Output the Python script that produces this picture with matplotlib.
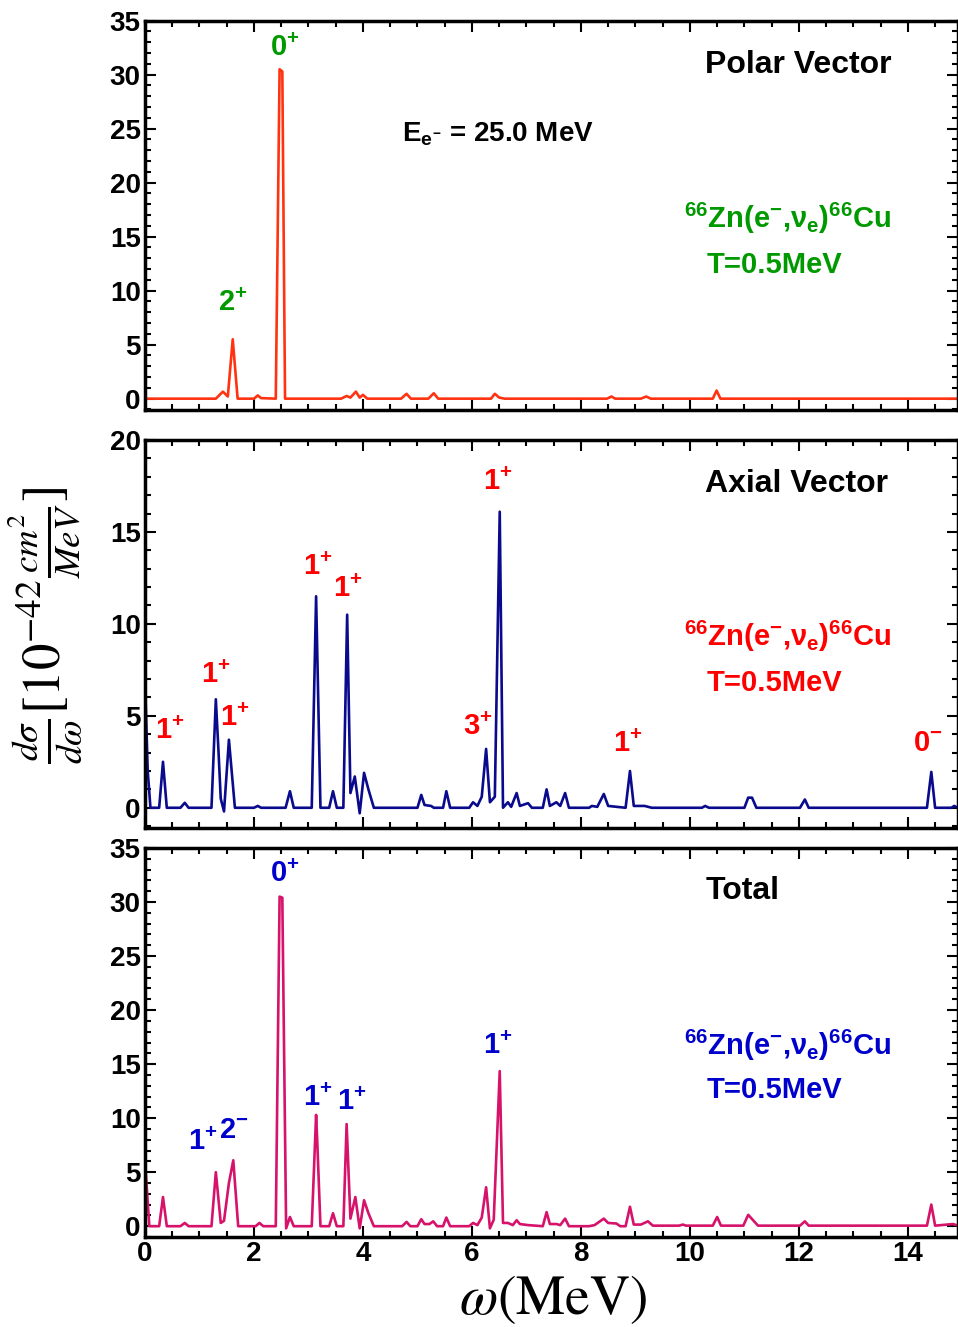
import numpy as np
import matplotlib.pyplot as plt
from matplotlib.ticker import MultipleLocator

plt.rcParams['font.family'] = ['Liberation Sans', 'DejaVu Sans']
plt.rcParams['font.weight'] = 'normal'
plt.rcParams['mathtext.fontset'] = 'custom'
plt.rcParams['mathtext.rm'] = 'Liberation Sans:bold'
plt.rcParams['mathtext.it'] = 'Liberation Sans:bold'
plt.rcParams['mathtext.bf'] = 'Liberation Sans:bold'
plt.rcParams['mathtext.sf'] = 'Liberation Sans:bold'

# Polar vector (knots)
polar_x = [0.0, 1.30, 1.43, 1.52, 1.61, 1.70, 2.00, 2.07, 2.13, 2.40, 2.47, 2.52, 2.57,
           3.60, 3.70, 3.77, 3.87, 3.94, 4.00, 4.08, 4.70, 4.80, 4.88, 5.20, 5.30, 5.38,
           6.35, 6.42, 6.50, 6.60, 8.48, 8.56, 8.63, 9.10, 9.20, 9.28, 10.42, 10.49, 10.56,
           14.92]
polar_y = [0.0, 0.0, 0.65, 0.2, 5.5, 0.0, 0.0, 0.3, 0.05, 0.0, 30.5, 30.3, 0.0,
           0.0, 0.25, 0.1, 0.65, 0.1, 0.35, 0.0, 0.0, 0.45, 0.0, 0.0, 0.5, 0.0,
           0.0, 0.45, 0.1, 0.0, 0.0, 0.2, 0.0, 0.0, 0.2, 0.0, 0.0, 0.75, 0.0,
           0.0]

# Axial vector
axial_x = [0.00, 0.05, 0.10, 0.26, 0.33, 0.40, 0.65, 0.73, 0.80, 1.22, 1.30, 1.35, 1.39, 1.45,
           1.54, 1.65, 2.00, 2.07, 2.13, 2.58, 2.66, 2.73, 3.06, 3.14, 3.22, 3.38, 3.45, 3.52,
           3.64, 3.71, 3.77, 3.85, 3.94, 4.02, 4.10, 4.20, 5.00, 5.07, 5.13, 5.25, 5.30, 5.47,
           5.53, 5.60, 5.95, 6.02, 6.10, 6.18, 6.26, 6.33, 6.42, 6.51, 6.57, 6.66, 6.72, 6.82,
           6.88, 7.03, 7.10, 7.30, 7.37, 7.43, 7.55, 7.62, 7.71, 7.78, 8.15, 8.20, 8.30, 8.42,
           8.50, 8.82, 8.90, 8.97, 9.17, 9.30, 10.22, 10.28, 10.35, 11.00, 11.07, 11.14, 11.22,
           12.02, 12.11, 12.18, 14.35, 14.43, 14.50, 14.80, 14.85, 14.92]
axial_y = [7.0, 2.0, 0.0, 0.0, 2.5, 0.0, 0.0, 0.27, 0.0, 0.0, 5.9, 3.0, 0.5, -0.2,
           3.7, 0.0, 0.0, 0.1, 0.0, 0.0, 0.9, 0.0, 0.0, 11.5, 0.0, 0.0, 0.9, 0.0,
           0.0, 10.5, 0.8, 1.7, -0.3, 1.9, 1.0, 0.0, 0.0, 0.7, 0.15, 0.1, 0.0, 0.0,
           0.9, 0.0, 0.0, 0.3, 0.1, 0.6, 3.2, 0.3, 0.6, 16.1, 0.0, 0.3, 0.05, 0.8,
           0.1, 0.25, 0.0, 0.0, 1.0, 0.1, 0.3, 0.1, 0.8, 0.0, 0.0, 0.1, 0.05, 0.75,
           0.1, 0.0, 2.0, 0.1, 0.1, 0.0, 0.0, 0.1, 0.0, 0.0, 0.55, 0.55, 0.0,
           0.0, 0.45, 0.0, 0.0, 1.95, 0.0, 0.0, 0.1, 0.0]

# Total
total_x = [0.00, 0.04, 0.08, 0.26, 0.33, 0.40, 0.65, 0.73, 0.80, 1.22, 1.30, 1.39, 1.45, 1.54,
           1.62, 1.71, 2.03, 2.10, 2.17, 2.40, 2.47, 2.52, 2.59, 2.66, 2.73, 3.06, 3.14, 3.16,
           3.22, 3.38, 3.45, 3.52, 3.64, 3.70, 3.77, 3.86, 3.94, 4.02, 4.10, 4.20, 4.72, 4.80,
           4.87, 5.00, 5.07, 5.13, 5.22, 5.29, 5.36, 5.47, 5.53, 5.60, 5.95, 6.02, 6.10, 6.18,
           6.26, 6.33, 6.40, 6.51, 6.57, 6.66, 6.75, 6.82, 6.88, 7.03, 7.30, 7.37, 7.43, 7.55,
           7.62, 7.71, 7.78, 8.15, 8.25, 8.42, 8.50, 8.65, 8.72, 8.82, 8.90, 8.97, 9.10, 9.23,
           9.32, 9.80, 9.87, 9.93, 10.42, 10.50, 10.57, 10.98, 11.07, 11.25, 12.02, 12.11,
           12.18, 14.35, 14.43, 14.50, 14.83, 14.92]
total_y = [6.0, 3.0, 0.0, 0.0, 2.7, 0.0, 0.0, 0.3, 0.0, 0.0, 5.0, 0.3, 0.5, 4.0,
           6.1, 0.0, 0.0, 0.3, 0.0, 0.0, 30.5, 30.4, -0.2, 0.85, 0.0, 0.0, 10.3, 8.0,
           0.0, 0.0, 1.2, 0.0, 0.0, 9.45, 0.7, 2.7, -0.2, 2.4, 1.2, 0.0, 0.0, 0.4,
           0.0, 0.0, 0.65, 0.2, 0.2, 0.45, 0.0, 0.0, 0.8, 0.0, 0.0, 0.3, 0.1, 0.8,
           3.6, -0.2, 0.6, 14.35, 0.3, 0.3, 0.1, 0.55, 0.2, 0.1, 0.0, 1.3, 0.2, 0.2,
           0.1, 0.7, 0.0, 0.0, 0.1, 0.7, 0.3, 0.25, 0.0, 0.0, 1.8, 0.15, 0.15, 0.45,
           0.05, 0.05, 0.15, 0.05, 0.05, 0.85, 0.05, 0.05, 1.05, 0.05, 0.05, 0.45,
           0.05, 0.05, 2.0, 0.05, 0.2, 0.05]

# peak labels: (x, y, text)
polar_labels = [(2.57, 32.5, r'0$^{+}$'), (1.61, 8.9, r'2$^{+}$')]
axial_labels = [(0.46, 4.2, r'1$^{+}$'), (1.30, 7.2, r'1$^{+}$'), (1.65, 4.9, r'1$^{+}$'),
                (3.17, 13.1, r'1$^{+}$'), (3.72, 11.9, r'1$^{+}$'), (6.48, 17.7, r'1$^{+}$'),
                (6.11, 4.4, r'3$^{+}$'), (8.86, 3.5, r'1$^{+}$'), (14.37, 3.5, r'0$^{-}$')]
total_labels = [(2.57, 32.6, r'0$^{+}$'), (1.06, 7.8, r'1$^{+}$'), (1.63, 8.9, r'2$^{-}$'),
                (3.17, 11.9, r'1$^{+}$'), (3.80, 11.5, r'1$^{+}$'), (6.48, 16.7, r'1$^{+}$')]

reaction = r'$^{66}$Zn(e$^{-}$,ν$_{e}$)$^{66}$Cu'

H = 1327.0
W = 958.0
left = 145 / W
width = 1.0 - left

fig = plt.figure(figsize=(9.58, 13.27), dpi=100)

panels = [
    (20.7, 410, polar_x, polar_y, '#ff3311', (-1.05, 35), 'Polar Vector', 30.9,
     '#009900', polar_labels, 16.7, 12.4),
    (440, 828, axial_x, axial_y, '#0a0a8c', (-1.1, 20), 'Axial Vector', 17.6,
     '#ff0000', axial_labels, 9.3, 6.8),
    (848, 1237, total_x, total_y, '#d6126a', (-1.0, 35), 'Total', 31.0,
     '#0000cc', total_labels, 16.7, 12.6),
]

axes = []
for top, bot, xs, ys, col, ylim, title, ty, lcol, labels, zy, tyy in panels:
    ax = fig.add_axes([left, 1 - bot / H, width, (bot - top) / H])
    ax.plot(xs, ys, color=col, lw=1.9)
    ax.set_xlim(0, 14.92)
    ax.set_ylim(*ylim)
    ax.xaxis.set_major_locator(MultipleLocator(2))
    ax.xaxis.set_minor_locator(MultipleLocator(0.5))
    ax.yaxis.set_major_locator(MultipleLocator(5))
    ax.yaxis.set_minor_locator(MultipleLocator(1))
    ax.tick_params(which='both', direction='in', top=True, right=True, width=1.5)
    ax.tick_params(which='major', length=8, labelsize=20, pad=3)
    ax.tick_params(which='minor', length=4)
    for s in ax.spines.values():
        s.set_linewidth(2.5)
    plt.setp(ax.get_yticklabels(), fontweight='bold')
    plt.setp(ax.get_xticklabels(), fontweight='bold')
    ax.text(10.28, ty, title, fontsize=23, fontweight='bold', color='black', va='center')
    for x, y, t in labels:
        ax.text(x, y, t, color=lcol, fontsize=21, fontweight='bold', ha='center', va='center')
    ax.text(9.9, zy, reaction, color=lcol, fontsize=21, fontweight='bold', va='center')
    ax.text(10.3, tyy, 'T=0.5MeV', color=lcol, fontsize=21, fontweight='bold', va='center')
    axes.append(ax)

axes[0].set_xticklabels([])
axes[1].set_xticklabels([])

axes[0].text(4.72, 24.5, r'E$_{e^{-}}$ = 25.0 MeV', fontsize=20,
             fontweight='bold', va='center')

fig.text(553 / W, 1 - 1300 / H, r'$\omega(\mathrm{MeV})$', fontsize=40, ha='center',
         va='center', math_fontfamily='stix')
fig.text(45 / W, 1 - 625 / H, r'$\frac{d\sigma}{d\omega}[10^{-42}\frac{cm^2}{MeV}]$',
         fontsize=38, rotation=90, ha='center', va='center', math_fontfamily='stix')

fig.savefig('out.png', dpi=100)
